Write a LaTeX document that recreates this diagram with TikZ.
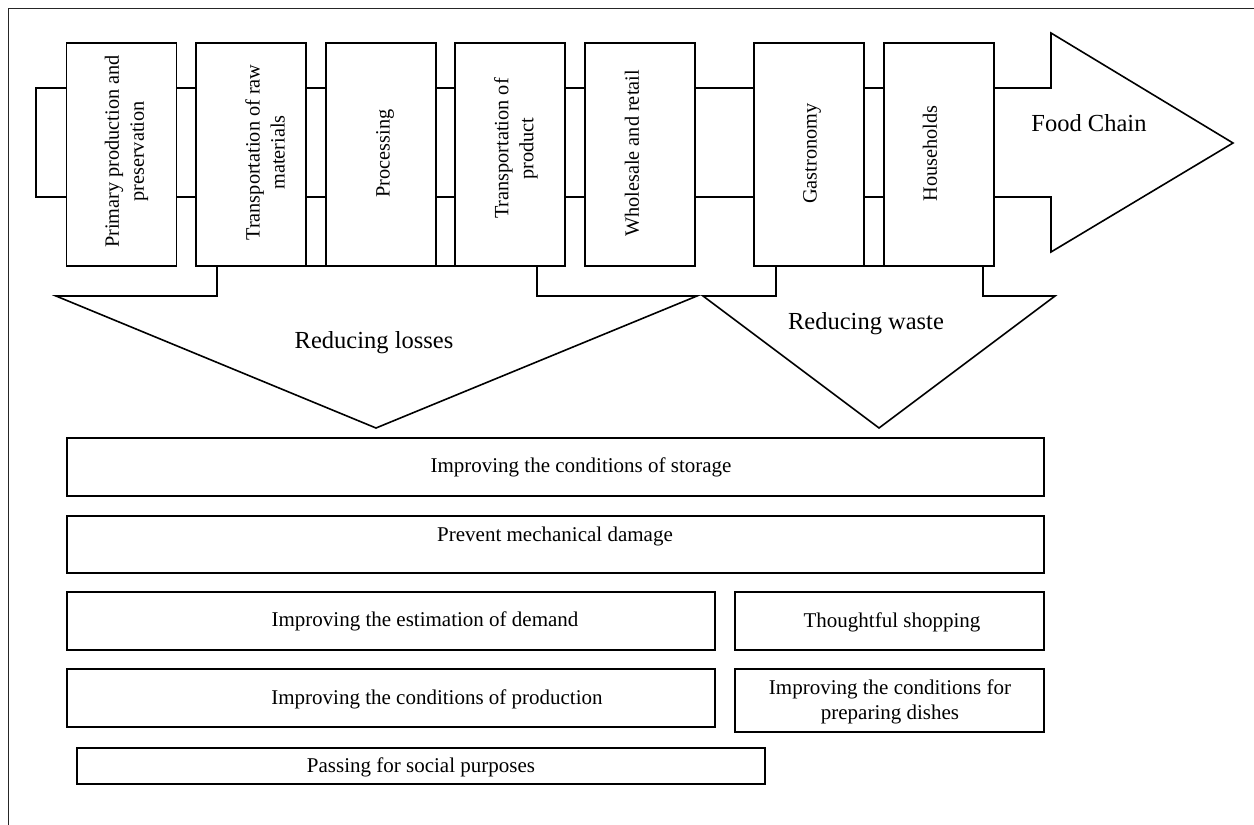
\documentclass[tikz,border=0pt]{standalone}
\usepackage{fontspec}
\setmainfont{Liberation Serif}
\begin{document}
\begin{tikzpicture}[x=1pt,y=-1pt,line width=1.6pt,line join=miter]
\tikzset{
  stagebox/.style={draw,fill=white,minimum width=110pt,minimum height=223pt,
    inner sep=0pt,outer sep=0pt},
  stagetext/.style={rotate=90,inner sep=0pt,align=center,font=\fontsize{20.3}{25}\selectfont},
  actbox/.style={draw,fill=white,inner sep=0pt,outer sep=0pt,anchor=north west},
  acttext/.style={inner sep=0pt,align=center,font=\fontsize{21}{25}\selectfont},
  bigtext/.style={inner sep=0pt,font=\fontsize{24.5}{29}\selectfont},
  frameline/.style={line width=1pt,draw=black!85}
}
\useasboundingbox (0,0) rectangle (1254,825);
% outer frame (right and bottom lie outside the picture)
\draw[frameline] (8,825) -- (8,8) -- (1254,8);

% food chain arrow
\draw (36,88) -- (1051,88) -- (1051,33) -- (1233,143) -- (1051,252) -- (1051,197) -- (36,197) -- cycle;
\node[bigtext] (fc) at (1089,123) {Food Chain};

% down arrows
\draw (217,266) -- (537,266) -- (537,296) -- (697,296) -- (376,428) -- (56,296) -- (217,296) -- cycle;
\draw (776,266) -- (983,266) -- (983,296) -- (1055,296) -- (879,428) -- (703,296) -- (776,296) -- cycle;
\node[bigtext] (rl) at (374,343) {Reducing losses};
\node[bigtext] (rw) at (866,324) {Reducing waste};

% stages
\node[stagebox] (p1) at (121.5,154.5) {};
\node[stagebox] (p2) at (251,154.5) {};
\node[stagebox] (p3) at (381,154.5) {};
\node[stagebox] (p4) at (510,154.5) {};
\node[stagebox] (p5) at (640,154.5) {};
\node[stagebox] (p6) at (809,154.5) {};
\node[stagebox] (p7) at (939,154.5) {};
\node[stagetext] (q1) at ([xshift=5pt,yshift=3pt]p1.center) {Primary production and\\preservation};
\node[stagetext] (q2) at ([xshift=14pt,yshift=2pt]p2.center) {Transportation of raw\\materials};
\node[stagetext] (q3) at ([xshift=4pt,yshift=1pt]p3.center) {Processing};
\node[stagetext] (q4) at ([xshift=6pt,yshift=6pt]p4.center) {Transportation of\\product};
\node[stagetext] (q5) at ([xshift=-8pt,yshift=1pt]p5.center) {Wholesale and retail};
\node[stagetext] (q6) at ([xshift=3pt,yshift=1pt]p6.center) {Gastronomy};
\node[stagetext] (q7) at ([xshift=-9pt,yshift=1pt]p7.center) {Households};

% actions
\node[actbox,minimum width=977pt,minimum height=58pt] (sA) at (67,438) {};
\node[actbox,minimum width=977pt,minimum height=57pt] (sB) at (67,516) {};
\node[actbox,minimum width=648pt,minimum height=58pt] (sC) at (67,592) {};
\node[actbox,minimum width=309pt,minimum height=58pt] (sD) at (735,592) {};
\node[actbox,minimum width=648pt,minimum height=58pt] (sE) at (67,669) {};
\node[actbox,minimum width=309pt,minimum height=63pt] (sF) at (735,669) {};
\node[actbox,minimum width=688pt,minimum height=36pt] (sG) at (77,748) {};

\node[acttext] (tA) at (581,467) {Improving the conditions of storage};
\node[acttext] (tB) at (555,536) {Prevent mechanical damage};
\node[acttext] (tC) at (425,621) {Improving the estimation of demand};
\node[acttext] (tD) at (892,622) {Thoughtful shopping};
\node[acttext] (tE) at (437,699) {Improving the conditions of production};
\node[acttext] (tF) at (890,702) {Improving the conditions for\\preparing dishes};
\node[acttext] (tG) at (421,767) {Passing for social purposes};
\end{tikzpicture}
\end{document}
